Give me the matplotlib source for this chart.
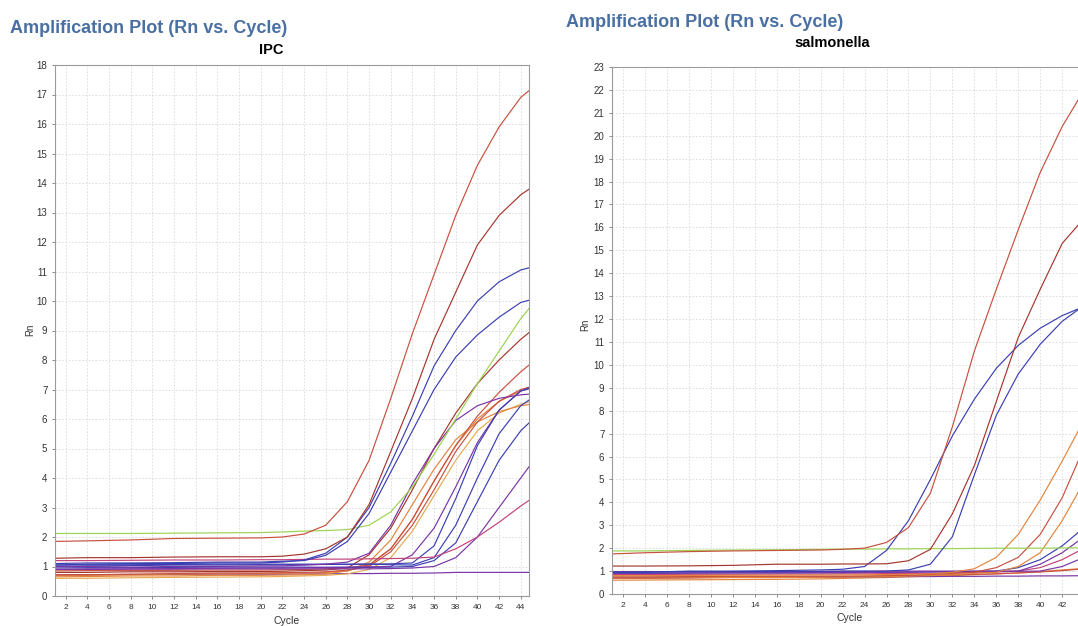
import matplotlib.pyplot as plt

plt.rcParams['font.family'] = ['Liberation Sans', 'DejaVu Sans']

cycles = [1, 4, 8, 12, 16, 20, 22, 24, 26, 28, 30, 32, 34, 36, 38, 40, 42, 44, 45]

# ---- IPC panel ----
ipc_red_a = [1.85, 1.87, 1.90, 1.95, 1.96, 1.97, 2.00, 2.10, 2.40, 3.20, 4.60, 6.70, 8.90, 10.90, 12.90, 14.60, 15.90, 16.90, 17.20]
ipc_red_b = [1.28, 1.30, 1.30, 1.32, 1.33, 1.33, 1.35, 1.42, 1.60, 2.00, 3.10, 4.90, 6.70, 8.70, 10.30, 11.90, 12.90, 13.60, 13.85]
ipc_blue_a = [1.05, 1.08, 1.10, 1.10, 1.12, 1.12, 1.15, 1.22, 1.45, 2.00, 3.00, 4.50, 6.10, 7.80, 9.00, 10.00, 10.65, 11.05, 11.15]
ipc_blue_b = [1.10, 1.12, 1.12, 1.13, 1.15, 1.15, 1.18, 1.20, 1.38, 1.85, 2.80, 4.20, 5.60, 7.00, 8.10, 8.85, 9.45, 9.95, 10.05]
ipc_green = [2.12, 2.12, 2.12, 2.13, 2.14, 2.15, 2.17, 2.20, 2.22, 2.25, 2.40, 2.85, 3.70, 4.80, 6.00, 7.20, 8.30, 9.40, 9.85]
ipc_red_c = [0.80, 0.80, 0.82, 0.82, 0.83, 0.83, 0.84, 0.86, 0.88, 0.95, 1.40, 2.30, 3.60, 5.00, 6.20, 7.20, 8.00, 8.70, 9.00]
ipc_red_d = [0.85, 0.86, 0.86, 0.87, 0.88, 0.88, 0.89, 0.90, 0.92, 0.95, 1.05, 1.60, 2.60, 3.90, 5.10, 6.10, 6.90, 7.60, 7.90]
ipc_purple_a = [1.00, 1.00, 0.98, 1.00, 1.00, 1.02, 1.02, 1.05, 1.08, 1.15, 1.45, 2.40, 3.80, 5.00, 5.95, 6.45, 6.70, 6.82, 6.85]
ipc_orange_a = [0.65, 0.66, 0.68, 0.68, 0.70, 0.70, 0.71, 0.72, 0.75, 0.85, 1.15, 1.90, 3.10, 4.30, 5.30, 5.90, 6.25, 6.45, 6.50]
ipc_orange_b = [0.70, 0.70, 0.72, 0.74, 0.75, 0.76, 0.77, 0.78, 0.80, 0.85, 1.05, 1.60, 2.60, 3.90, 5.10, 6.00, 6.60, 6.95, 7.05]
ipc_gold = [0.60, 0.60, 0.62, 0.63, 0.64, 0.65, 0.66, 0.68, 0.70, 0.75, 0.90, 1.30, 2.20, 3.40, 4.60, 5.60, 6.20, 6.50, 6.60]
ipc_red_e = [0.72, 0.72, 0.74, 0.76, 0.78, 0.78, 0.79, 0.80, 0.82, 0.88, 1.00, 1.50, 2.40, 3.60, 4.90, 5.90, 6.60, 7.00, 7.10]
ipc_purple_b = [0.90, 0.92, 0.92, 0.93, 0.94, 0.95, 0.95, 0.96, 0.97, 0.98, 0.99, 1.00, 1.40, 2.30, 3.70, 5.20, 6.30, 6.95, 7.10]
ipc_blue_d = [1.00, 1.02, 1.03, 1.05, 1.05, 1.06, 1.06, 1.06, 1.07, 1.07, 1.08, 1.09, 1.12, 1.70, 3.30, 5.10, 6.30, 6.95, 7.05]
ipc_blue_e = [1.05, 1.06, 1.06, 1.07, 1.08, 1.08, 1.08, 1.08, 1.08, 1.08, 1.08, 1.06, 1.05, 1.30, 2.40, 4.00, 5.50, 6.45, 6.70]
ipc_blue_f = [0.95, 0.96, 0.96, 0.97, 0.98, 0.98, 0.98, 0.98, 0.97, 0.97, 0.97, 0.98, 1.00, 1.20, 1.80, 3.20, 4.60, 5.60, 5.95]
ipc_purple_c = [0.90, 0.90, 0.91, 0.91, 0.92, 0.92, 0.92, 0.92, 0.92, 0.92, 0.92, 0.93, 0.95, 1.00, 1.30, 2.00, 3.00, 4.00, 4.50]
ipc_magenta = [1.20, 1.20, 1.21, 1.22, 1.22, 1.23, 1.23, 1.24, 1.25, 1.25, 1.26, 1.27, 1.28, 1.32, 1.60, 2.00, 2.50, 3.05, 3.30]
ipc_purple_flat = [0.72, 0.72, 0.73, 0.73, 0.74, 0.74, 0.74, 0.75, 0.75, 0.76, 0.76, 0.77, 0.77, 0.78, 0.80, 0.80, 0.80, 0.80, 0.80]

# ---- salmonella panel ----
sal_red_a = [1.75, 1.80, 1.85, 1.88, 1.90, 1.92, 1.95, 2.00, 2.25, 2.90, 4.40, 7.30, 10.60, 13.30, 15.90, 18.40, 20.40, 22.00, 22.60]
sal_red_b = [1.22, 1.22, 1.23, 1.25, 1.30, 1.30, 1.31, 1.31, 1.32, 1.45, 1.95, 3.50, 5.60, 8.40, 11.20, 13.30, 15.30, 16.40, 16.80]
sal_blue_a = [0.95, 0.95, 1.00, 1.00, 1.02, 1.05, 1.08, 1.20, 1.90, 3.20, 5.00, 6.90, 8.50, 9.85, 10.85, 11.60, 12.15, 12.55, 12.70]
sal_blue_b = [0.95, 0.96, 0.97, 0.98, 0.98, 0.99, 1.00, 1.00, 1.00, 1.05, 1.30, 2.50, 5.20, 7.80, 9.60, 10.90, 11.90, 12.60, 12.80]
sal_green = [1.88, 1.88, 1.90, 1.92, 1.93, 1.95, 1.96, 1.96, 1.97, 1.97, 1.98, 1.98, 1.99, 2.00, 2.00, 2.00, 2.01, 2.02, 2.02]
sal_orange_a = [0.80, 0.80, 0.81, 0.82, 0.82, 0.83, 0.83, 0.84, 0.85, 0.86, 0.88, 0.95, 1.10, 1.60, 2.60, 4.10, 5.80, 7.60, 8.40]
sal_red_c = [0.75, 0.75, 0.76, 0.77, 0.77, 0.78, 0.78, 0.79, 0.80, 0.82, 0.85, 0.90, 0.95, 1.15, 1.60, 2.60, 4.20, 6.40, 7.30]
sal_orange_b = [0.70, 0.70, 0.71, 0.72, 0.72, 0.73, 0.74, 0.75, 0.76, 0.78, 0.80, 0.85, 0.90, 0.95, 1.20, 1.80, 3.20, 4.90, 5.80]
sal_blue_c = [0.90, 0.90, 0.91, 0.92, 0.92, 0.93, 0.93, 0.94, 0.95, 0.96, 0.97, 0.98, 0.99, 1.00, 1.15, 1.50, 2.10, 2.90, 3.40]
sal_purple_a = [0.98, 0.98, 0.97, 0.97, 0.98, 0.98, 0.99, 0.99, 1.00, 1.00, 1.00, 1.00, 1.00, 1.00, 1.00, 1.30, 1.80, 2.50, 2.90]
sal_magenta = [0.85, 0.85, 0.86, 0.86, 0.87, 0.87, 0.88, 0.88, 0.89, 0.90, 0.90, 0.92, 0.94, 0.96, 1.00, 1.15, 1.50, 2.00, 2.30]
sal_purple_b = [0.92, 0.92, 0.92, 0.93, 0.93, 0.93, 0.94, 0.94, 0.95, 0.95, 0.96, 0.96, 0.97, 0.98, 0.99, 1.00, 1.20, 1.60, 1.80]
sal_orange_c = [0.60, 0.61, 0.62, 0.63, 0.64, 0.66, 0.68, 0.70, 0.72, 0.75, 0.78, 0.80, 0.84, 0.88, 0.92, 0.98, 1.05, 1.12, 1.15]
sal_red_d = [0.68, 0.68, 0.70, 0.72, 0.72, 0.74, 0.75, 0.76, 0.78, 0.80, 0.82, 0.84, 0.86, 0.88, 0.92, 0.96, 1.02, 1.10, 1.15]
sal_purple_flat = [0.72, 0.72, 0.72, 0.73, 0.73, 0.74, 0.74, 0.75, 0.75, 0.76, 0.76, 0.77, 0.77, 0.78, 0.78, 0.79, 0.79, 0.80, 0.80]

RED = '#c8503f'
DRED = '#a5362e'
BLUE = '#3b3fb2'
PURPLE = '#7a34a6'
ORANGE = '#e2843c'
GOLD = '#e8aa50'
GREEN = '#9bd44f'
MAGENTA = '#c2427a'

ipc_curves = [
    (ipc_purple_flat, PURPLE), (ipc_gold, GOLD), (ipc_orange_a, ORANGE),
    (ipc_orange_b, ORANGE), (ipc_red_e, RED), (ipc_red_c, DRED), (ipc_red_d, RED),
    (ipc_purple_c, PURPLE), (ipc_blue_f, BLUE), (ipc_purple_b, PURPLE),
    (ipc_blue_e, BLUE), (ipc_blue_d, BLUE), (ipc_purple_a, PURPLE),
    (ipc_magenta, MAGENTA), (ipc_green, GREEN), (ipc_blue_b, BLUE),
    (ipc_blue_a, BLUE), (ipc_red_b, DRED), (ipc_red_a, RED),
]
sal_curves = [
    (sal_orange_c, ORANGE), (sal_red_d, RED), (sal_purple_flat, PURPLE),
    (sal_magenta, MAGENTA), (sal_blue_c, BLUE), (sal_purple_b, PURPLE),
    (sal_purple_a, PURPLE), (sal_orange_b, ORANGE), (sal_red_c, RED),
    (sal_orange_a, ORANGE), (sal_green, GREEN), (sal_blue_b, BLUE),
    (sal_blue_a, BLUE), (sal_red_b, DRED), (sal_red_a, RED),
]

W, H = 1078, 626
fig = plt.figure(figsize=(W / 100, H / 100), dpi=100)
fig.patch.set_facecolor('white')


def px_axes(x0, x1, y_top, y_bot):
    return fig.add_axes([x0 / W, 1 - y_bot / H, (x1 - x0) / W, (y_bot - y_top) / H])


def style(ax, ymax):
    ax.set_xlim(1, 44.8)
    ax.set_ylim(0, ymax)
    ax.set_xticks(range(2, 45, 2))
    ax.set_yticks(range(0, ymax + 1))
    ax.grid(True, color='#d9d9d9', linestyle=(0, (2, 2)), linewidth=0.6)
    ax.set_axisbelow(True)
    for s in ax.spines.values():
        s.set_color('#9a9a9a')
        s.set_linewidth(0.8)
    ax.tick_params(axis='x', labelsize=6, length=2.5, width=0.6, pad=3, color='#777777')
    ax.tick_params(axis='y', labelsize=7, length=2.5, width=0.6, pad=3, color='#777777')
    for lab in ax.get_xticklabels() + ax.get_yticklabels():
        lab.set_color('#333333')


ax1 = px_axes(55, 529.4, 65, 596)
for vals, col in ipc_curves:
    ax1.plot(cycles, vals, color=col, linewidth=0.85)
style(ax1, 18)

# right panel is cut off at the image edge in the original
ax2 = px_axes(612, 612 + 43.8 * 10.98, 67, 594)
for vals, col in sal_curves:
    ax2.plot(cycles, vals, color=col, linewidth=0.85)
style(ax2, 23)

title_col = '#4a6fa3'
fig.text(10 / W, 1 - 33 / H, 'Amplification Plot (Rn vs. Cycle)', fontsize=13,
         fontweight='bold', color=title_col, ha='left', va='baseline')
fig.text(566 / W, 1 - 27 / H, 'Amplification Plot (Rn vs. Cycle)', fontsize=13,
         fontweight='bold', color=title_col, ha='left', va='baseline')
fig.text(271 / W, 1 - 54 / H, 'IPC', fontsize=10.5, fontweight='bold',
         color='black', ha='center', va='baseline')
fig.text(832 / W, 1 - 47 / H, 'salmonella', fontsize=10.5, fontweight='bold',
         color='black', ha='center', va='baseline')

fig.text(30 / W, 1 - 330 / H, 'Rn', fontsize=7, rotation=90, ha='center', va='center', color='#333333')
fig.text(585 / W, 1 - 325 / H, 'Rn', fontsize=7, rotation=90, ha='center', va='center', color='#333333')
fig.text(287 / W, 1 - 621 / H, 'Cycle', fontsize=7.5, ha='center', va='center', color='#333333')
fig.text(850 / W, 1 - 618 / H, 'Cycle', fontsize=7.5, ha='center', va='center', color='#333333')

plt.savefig('out.png', dpi=100)
